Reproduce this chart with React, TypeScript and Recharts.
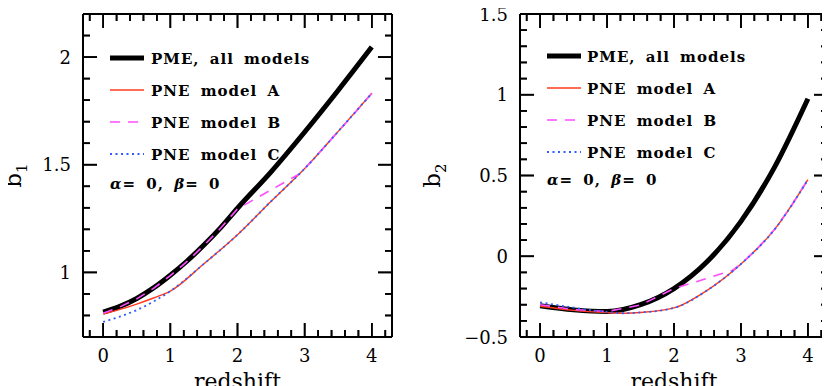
import React from 'react';
import { LineChart, Line, XAxis, YAxis, Legend, ReferenceLine } from 'recharts';

// ---------- tick definitions ----------
const xDomain: [number, number] = [-0.3, 4.3];
const xTicks = [-0.2, 0, 0.2, 0.4, 0.6, 0.8, 1, 1.2, 1.4, 1.6, 1.8, 2, 2.2, 2.4, 2.6, 2.8, 3, 3.2, 3.4, 3.6, 3.8, 4, 4.2];
const xMajor = [0, 1, 2, 3, 4];
const leftYTicks = [0.8, 0.9, 1, 1.1, 1.2, 1.3, 1.4, 1.5, 1.6, 1.7, 1.8, 1.9, 2, 2.1];
const leftYMajor = [1, 1.5, 2];
const rightYTicks = [-0.5, -0.4, -0.3, -0.2, -0.1, 0, 0.1, 0.2, 0.3, 0.4, 0.5, 0.6, 0.7, 0.8, 0.9, 1, 1.1, 1.2, 1.3, 1.4, 1.5];
const rightYMajor = [-0.5, 0, 0.5, 1, 1.5];

// ---------- legend ----------
const seriesNames = ['PME, all models', 'PNE model A', 'PNE model B', 'PNE model C'];
const seriesColors = ['#000000', '#ff3a1a', '#ff4cff', '#2f5bff'];
const seriesWidths = [5, 1.4, 1.6, 1.8];
const seriesDash = ['', '', '10 8', '2 3.5'];

// ---------- left panel (b1) ----------
const leftPmeZ = [0, 0.25, 0.5, 0.75, 1, 1.25, 1.5, 1.75, 2, 2.5, 3, 3.5, 4];
const leftPme = [0.815, 0.842, 0.879, 0.928, 0.987, 1.053, 1.127, 1.208, 1.298, 1.467, 1.652, 1.846, 2.047];
const leftAZ = [0, 0.25, 0.5, 0.75, 1, 1.5, 2, 2.5, 3, 3.5, 4];
const leftA = [0.806, 0.828, 0.853, 0.881, 0.913, 1.04, 1.175, 1.33, 1.482, 1.655, 1.832];
const leftBZ = [0, 0.25, 0.5, 0.75, 1, 1.25, 1.5, 1.75, 2, 2.93, 3, 3.25, 3.5, 3.75, 4];
const leftB = [0.81, 0.84, 0.877, 0.926, 0.985, 1.051, 1.125, 1.206, 1.295, 1.459, 1.482, 1.567, 1.655, 1.742, 1.832];
const leftCZ = [0, 0.25, 0.5, 0.75, 1, 1.5, 2, 2.5, 3, 3.5, 4];
const leftC = [0.77, 0.795, 0.825, 0.865, 0.913, 1.04, 1.175, 1.33, 1.482, 1.655, 1.832];

// ---------- right panel (b2) ----------
const rightPmeZ = [0, 0.5, 1, 1.5, 2, 2.5, 3, 3.5, 4];
const rightPme = [-0.307, -0.332, -0.342, -0.3, -0.2, -0.031, 0.216, 0.55, 0.975];
const rightAZ = [0, 0.5, 1, 1.25, 1.5, 2, 2.5, 3, 3.5, 4];
const rightA = [-0.31, -0.335, -0.349, -0.353, -0.348, -0.32, -0.21, -0.048, 0.165, 0.475];
const rightBZ = [0, 0.5, 1, 1.5, 2, 2.87, 3, 3.25, 3.5, 3.75, 4];
const rightB = [-0.3, -0.33, -0.342, -0.302, -0.2, -0.088, -0.048, 0.05, 0.165, 0.31, 0.475];
const rightCZ = [0, 0.5, 1, 1.25, 1.5, 2, 2.5, 3, 3.5, 4];
const rightC = [-0.285, -0.318, -0.345, -0.353, -0.348, -0.32, -0.21, -0.048, 0.165, 0.475];

const zip = (zs: number[], vs: number[]) => zs.map((z, i) => ({ z, v: vs[i] }));

const FONT = "'DejaVu Serif', 'Liberation Serif', serif";
const CHART_H = 386;
const MARGIN_TOP = 5;
const TOP_AXIS_H = 1;
const RIGHT_AXIS_W = 1;
const XAXIS_H = 57;
const PLOT_H = CHART_H - MARGIN_TOP - TOP_AXIS_H - XAXIS_H;
const MAJOR_LEN = 14;
const MINOR_LEN = 7;

const fmt = (v: number) => (v < 0 ? '\u2212' + String(Math.abs(v)) : String(v));

function makeTick(side: string, majors: number[], label: boolean) {
  return (props: any) => {
    const { x, y, payload } = props;
    const v = payload.value;
    const major = majors.includes(v);
    const len = major ? MAJOR_LEN : MINOR_LEN;
    let x2 = x;
    let y2 = y;
    if (side === 'bottom') y2 = y - len;
    if (side === 'top') y2 = y + len;
    if (side === 'left') x2 = x + len;
    if (side === 'right') x2 = x - len;
    let txt = null;
    if (label && major && side === 'bottom') {
      txt = (
        <text x={x} y={y + 25} textAnchor="middle" fontFamily={FONT} fontSize={18} fill="#000">
          {fmt(v)}
        </text>
      );
    }
    if (label && major && side === 'left') {
      txt = (
        <text x={x - 12} y={y + 6.5} textAnchor="end" fontFamily={FONT} fontSize={18} fill="#000">
          {fmt(v)}
        </text>
      );
    }
    return (
      <g>
        <line x1={x} y1={y} x2={x2} y2={y2} stroke="#000" strokeWidth={1.7} />
        {txt}
      </g>
    );
  };
}

const xTitle = (props: any) => {
  const vb = props.viewBox;
  return (
    <text x={vb.x + vb.width / 2} y={vb.y + 52} textAnchor="middle" fontFamily={FONT} fontSize={22} fill="#000">
      redshift
    </text>
  );
};

const yTitle = (sub: string, dx: number) => (props: any) => {
  const vb = props.viewBox;
  const cx = vb.x + dx;
  const cy = vb.y + vb.height / 2;
  return (
    <text x={cx} y={cy} transform={`rotate(-90 ${cx} ${cy})`} textAnchor="middle" fontFamily={FONT} fontSize={23} fill="#000">
      b
      <tspan dy={6} fontSize={15}>{sub}</tspan>
    </text>
  );
};

type LegendGeom = { ox: number; oy: number; lx0: number; lx1: number; tx: number; rows: number[]; ay: number };

const makeLegend = (g: LegendGeom) => () => (
  <svg width={260} height={170} style={{ display: 'block', overflow: 'visible' }}>
    {seriesNames.map((name, i) => (
      <g key={name}>
        <line
          x1={g.lx0 - g.ox}
          x2={g.lx1 - g.ox}
          y1={g.rows[i] - g.oy}
          y2={g.rows[i] - g.oy}
          stroke={seriesColors[i]}
          strokeWidth={seriesWidths[i]}
          strokeDasharray={seriesDash[i] || undefined}
        />
        <text
          x={g.tx - g.ox}
          y={g.rows[i] - g.oy + 5.5}
          fontFamily={FONT}
          fontSize={15}
          fontWeight="bold"
          letterSpacing={1}
          wordSpacing={4}
          fill="#000"
        >
          {name}
        </text>
      </g>
    ))}
    <text x={g.lx0 - g.ox} y={g.ay - g.oy + 5.5} fontFamily={FONT} fontSize={15} fontWeight="bold" letterSpacing={1} wordSpacing={4} fill="#000">
      <tspan fontStyle="italic">α</tspan>= 0, <tspan fontStyle="italic">β</tspan>= 0
    </text>
  </svg>
);

type PanelProps = {
  boxWidth: number;
  width: number;
  yAxisWidth: number;
  marginRight: number;
  yDomain: [number, number];
  yTicks: number[];
  yMajor: number[];
  sub: string;
  subDx: number;
  legend: LegendGeom;
  series: { z: number; v: number }[][];
};

function tickMarks(p: PanelProps) {
  const plotW = p.width - p.yAxisWidth - p.marginRight - RIGHT_AXIS_W;
  const [x0, x1] = xDomain;
  const [y0, y1] = p.yDomain;
  const pxPerX = plotW / (x1 - x0);
  const pxPerY = PLOT_H / (y1 - y0);
  const common = { xAxisId: 'b', yAxisId: 'l', stroke: '#000', strokeWidth: 1.7, ifOverflow: 'visible' as const };
  const els: React.ReactElement[] = [];
  xTicks.forEach((t) => {
    const len = (xMajor.includes(t) ? MAJOR_LEN : MINOR_LEN) / pxPerY;
    els.push(<ReferenceLine key={`xb${t}`} {...common} segment={[{ x: t, y: y0 }, { x: t, y: y0 + len }]} />);
    els.push(<ReferenceLine key={`xt${t}`} {...common} segment={[{ x: t, y: y1 }, { x: t, y: y1 - len }]} />);
  });
  p.yTicks.forEach((t) => {
    const len = (p.yMajor.includes(t) ? MAJOR_LEN : MINOR_LEN) / pxPerX;
    els.push(<ReferenceLine key={`yl${t}`} {...common} segment={[{ x: x0, y: t }, { x: x0 + len, y: t }]} />);
    els.push(<ReferenceLine key={`yr${t}`} {...common} segment={[{ x: x1, y: t }, { x: x1 - len, y: t }]} />);
  });
  els.push(<ReferenceLine key="frameTop" {...common} strokeWidth={2} y={y1} />);
  els.push(<ReferenceLine key="frameRight" {...common} strokeWidth={2} x={x1} />);
  return els;
}

function Panel(p: PanelProps) {
  const lineTypes: ('monotone' | 'linear')[] = ['monotone', 'monotone', 'linear', 'monotone'];
  const xIds = ['t', 'b', 'b', 'b'];
  const yIds = ['r', 'l', 'l', 'l'];
  return (
    <div style={{ position: 'relative', width: p.boxWidth, height: CHART_H, flex: 'none' }}>
      <LineChart width={p.width} height={CHART_H} margin={{ top: MARGIN_TOP, right: p.marginRight, bottom: 0, left: 0 }}>
        <XAxis
          xAxisId="b"
          dataKey="z"
          type="number"
          domain={xDomain}
          allowDataOverflow
          ticks={xTicks}
          interval={0}
          tickSize={0}
          tickMargin={0}
          height={XAXIS_H}
          tickLine={false}
          axisLine={{ stroke: '#000', strokeWidth: 2 }}
          tick={makeTick('bottom', xMajor, true)}
          label={{ content: xTitle }}
        />
        <XAxis
          xAxisId="t"
          orientation="top"
          dataKey="z"
          type="number"
          domain={xDomain}
          allowDataOverflow
          ticks={xTicks}
          interval={0}
          tickSize={0}
          tickMargin={0}
          height={TOP_AXIS_H}
          tickLine={false}
          axisLine={{ stroke: '#000', strokeWidth: 2 }}
          tick={makeTick('top', xMajor, false)}
        />
        <YAxis
          yAxisId="l"
          type="number"
          domain={p.yDomain}
          allowDataOverflow
          ticks={p.yTicks}
          interval={0}
          tickSize={0}
          tickMargin={0}
          width={p.yAxisWidth}
          tickLine={false}
          axisLine={{ stroke: '#000', strokeWidth: 2 }}
          tick={makeTick('left', p.yMajor, true)}
          label={{ content: yTitle(p.sub, p.subDx) }}
        />
        <YAxis
          yAxisId="r"
          orientation="right"
          type="number"
          domain={p.yDomain}
          allowDataOverflow
          ticks={p.yTicks}
          interval={0}
          tickSize={0}
          tickMargin={0}
          width={RIGHT_AXIS_W}
          tickLine={false}
          axisLine={{ stroke: '#000', strokeWidth: 2 }}
          tick={makeTick('right', p.yMajor, false)}
        />
        {[0, 1, 2, 3].map((i) => (
          <Line
            key={seriesNames[i]}
            xAxisId={xIds[i]}
            yAxisId={yIds[i]}
            name={seriesNames[i]}
            data={p.series[i]}
            dataKey="v"
            type={lineTypes[i]}
            stroke={seriesColors[i]}
            strokeWidth={seriesWidths[i]}
            strokeDasharray={seriesDash[i] || undefined}
            dot={false}
            activeDot={false}
            isAnimationActive={false}
          />
        ))}
        {tickMarks(p)}
        <Legend
          layout="horizontal"
          verticalAlign="middle"
          align="center"
          content={makeLegend(p.legend)}
          wrapperStyle={{ position: 'absolute', left: p.legend.ox, top: p.legend.oy, width: 260, height: 170, margin: 0 }}
        />
      </LineChart>
    </div>
  );
}

export default function App() {
  return (
    <div style={{ marginLeft: -8, marginTop: 0, width: 830, height: 386, display: 'flex' }}>
      <Panel
        boxWidth={410}
        width={400}
        yAxisWidth={83}
        marginRight={7}
        yDomain={[0.7, 2.2]}
        yTicks={leftYTicks}
        yMajor={leftYMajor}
        sub="1"
        subDx={21}
        legend={{ ox: 100, oy: 30, lx0: 110, lx1: 144, tx: 151, rows: [50, 82, 114, 146], ay: 175 }}
        series={[zip(leftPmeZ, leftPme), zip(leftAZ, leftA), zip(leftBZ, leftB), zip(leftCZ, leftC)]}
      />
      <Panel
        boxWidth={420}
        width={420}
        yAxisWidth={110}
        marginRight={1}
        yDomain={[-0.5, 1.5]}
        yTicks={rightYTicks}
        yMajor={rightYMajor}
        sub="2"
        subDx={30}
        legend={{ ox: 127, oy: 28, lx0: 137, lx1: 171, tx: 177, rows: [48, 80, 112, 144], ay: 171 }}
        series={[zip(rightPmeZ, rightPme), zip(rightAZ, rightA), zip(rightBZ, rightB), zip(rightCZ, rightC)]}
      />
    </div>
  );
}
